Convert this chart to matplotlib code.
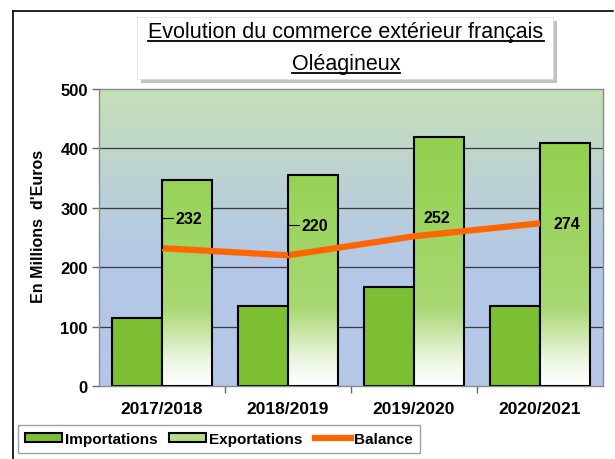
import numpy as np
import matplotlib
matplotlib.use("Agg")
import matplotlib.pyplot as plt
from matplotlib import font_manager
from matplotlib.colors import LinearSegmentedColormap
from matplotlib.patches import Rectangle, FancyBboxPatch
from matplotlib.lines import Line2D

plt.rcParams['font.family'] = ['Liberation Sans', 'DejaVu Sans']

categories = ["2017/2018", "2018/2019", "2019/2020", "2020/2021"]
importations = [114, 135, 167, 135]
exportations = [346, 355, 419, 409]
balance = [232, 220, 252, 274]
yticks = [0, 100, 200, 300, 400, 500]
title_lines = ["Evolution du commerce extérieur français", "Oléagineux"]
ylabel = "En Millions  d'Euros"
legend_labels = ["Importations", "Exportations", "Balance"]

NF = ["Liberation Sans", "DejaVu Sans"]
xt_size, val_size, leg_size, yl_size = 12.5, 11.5, 11, 11.5

W, H = 615, 460
fig = plt.figure(figsize=(W / 100, H / 100), dpi=100)
fig.patch.set_facecolor("white")

def fx(px):
    return px / W

def fy(py):
    return 1 - py / H

ax = fig.add_axes([fx(99), fy(387), fx(603) - fx(99), fy(90) - fy(387)])
ax.set_xlim(-0.5, len(categories) - 0.5)
ax.set_ylim(0, 500)

# background gradient of plot area
bg_cmap = LinearSegmentedColormap.from_list(
    "bg", [(0.0, "#b4c7e7"), (0.40, "#b4c7e7"), (0.62, "#b9cfd9"), (1.0, "#c6e0b8")])
grad = np.linspace(0, 1, 256).reshape(-1, 1)
ax.imshow(grad, extent=(-0.5, len(categories) - 0.5, 0, 500), origin="lower",
          cmap=bg_cmap, aspect="auto", zorder=0)

# grid
for v in yticks[1:-1]:
    ax.axhline(v, color="#3a3a3a", lw=0.9, zorder=0.5)

x = np.arange(len(categories))
bw = 0.4
imp_color = "#7dbf32"
ax.bar(x - bw / 2, importations, width=bw, color=imp_color, edgecolor="black",
       linewidth=1.5, zorder=2)

ex_cmap = LinearSegmentedColormap.from_list(
    "ex", [(0.0, "#ffffff"), (0.08, "#eef7e4"), (0.26, "#aad874"), (0.6, "#9ad45c"), (1.0, "#8dcd48")])
bars = ax.bar(x + bw / 2, exportations, width=bw, color="none", edgecolor="black",
              linewidth=1.5, zorder=3)
for b in bars:
    im = ax.imshow(grad, extent=(b.get_x(), b.get_x() + b.get_width(), 0, 500),
                   origin="lower", cmap=ex_cmap, aspect="auto", zorder=2.5)
    im.set_clip_path(b)
ax.set_xlim(-0.5, len(categories) - 0.5)
ax.set_ylim(0, 500)

ax.plot(x, balance, color="#ff6600", lw=4.5, zorder=4, solid_capstyle="butt")

# data labels
offsets = [(14, 30, True), (14, 30, True), (10, 19, False), (13, 0, False)]
for xi, v, (dx, dy, lead) in zip(x, balance, offsets):
    kw = {}
    if lead:
        kw["arrowprops"] = dict(arrowstyle="-", color="black", lw=0.8,
                                connectionstyle="angle,angleA=0,angleB=90,rad=0",
                                shrinkA=0, shrinkB=0)
    ax.annotate(str(v), xy=(xi, v), xytext=(dx, dy), textcoords="offset pixels",
                ha="left", va="center", fontsize=val_size, fontweight="bold",
                family=NF, zorder=6, **kw)

# axes styling
for s in ax.spines.values():
    s.set_color("#8a8a8a")
    s.set_linewidth(1.0)
ax.set_yticks(yticks)
ax.set_yticklabels([str(t) for t in yticks], fontsize=12, fontweight="bold")
ax.tick_params(axis="y", direction="out", length=5, width=1, color="#6a6a6a", pad=3)
ax.set_xticks(np.arange(len(categories) - 1) + 0.5)
ax.set_xticklabels([])
ax.tick_params(axis="x", which="major", direction="out", length=5, width=1, color="#6a6a6a")
ax.set_xticks(x, minor=True)
ax.set_xticklabels(categories, minor=True, fontsize=xt_size, fontweight="bold", family=NF)
ax.tick_params(axis="x", which="minor", length=0, pad=11)
ax.set_ylabel(ylabel, fontsize=yl_size, fontweight="bold", family=NF)
ax.yaxis.set_label_coords((46 - 99) / (603 - 99), (387 - 226) / 297)

# title box with shadow
bx0, by0, bx1, by1 = 137, 18, 553, 80
shadow = FancyBboxPatch((fx(bx0 + 4), fy(by1 + 4)), fx(bx1) - fx(bx0), fy(by0) - fy(by1),
                        boxstyle="square,pad=0", transform=fig.transFigure,
                        facecolor="#9a9a9a", edgecolor="none", alpha=0.6, zorder=1)
fig.patches.append(shadow)
box = FancyBboxPatch((fx(bx0), fy(by1)), fx(bx1) - fx(bx0), fy(by0) - fy(by1),
                     boxstyle="square,pad=0", transform=fig.transFigure,
                     facecolor="white", edgecolor="#dddddd", lw=0.5, zorder=2)
fig.patches.append(box)
t1 = fig.text(fx(346), fy(38), title_lines[0], ha="center", va="baseline", fontsize=15.5, zorder=3)
t2 = fig.text(fx(346), fy(70), title_lines[1], ha="center", va="baseline", fontsize=15.5, zorder=3)

# outer frame
fig.add_artist(Line2D([fx(13), fx(613)], [fy(12), fy(12)], color="black", lw=1.2, transform=fig.transFigure))
fig.add_artist(Line2D([fx(13), fx(13)], [fy(12), 0], color="black", lw=1.2, transform=fig.transFigure))

# legend
handles = [Rectangle((0, 0), 1, 1, facecolor=imp_color, edgecolor="black", lw=1.5),
           Rectangle((0, 0), 1, 1, facecolor="#b2de86", edgecolor="black", lw=1.5),
           Line2D([0], [0], color="#ff6600", lw=4.5)]
leg = fig.legend(handles, legend_labels, loc="upper left",
                 bbox_to_anchor=(fx(18), fy(426)), ncol=3, frameon=True, fancybox=False,
                 prop=dict(size=leg_size, weight="bold", family=NF), handlelength=2.4,
                 handleheight=0.45, handletextpad=0.2, columnspacing=0.8, borderpad=0.45,
                 borderaxespad=0)
leg.get_frame().set_edgecolor("#8a8a8a")
leg.get_frame().set_linewidth(1.0)

# underline titles
fig.canvas.draw()
r = fig.canvas.get_renderer()
for t, uy in ((t1, 42), (t2, 74)):
    bb = t.get_window_extent(r)
    fig.add_artist(Line2D([bb.x0 / W, bb.x1 / W], [fy(uy), fy(uy)], color="black", lw=1.3,
                          transform=fig.transFigure, zorder=4))

fig.savefig("out.png", dpi=100)
